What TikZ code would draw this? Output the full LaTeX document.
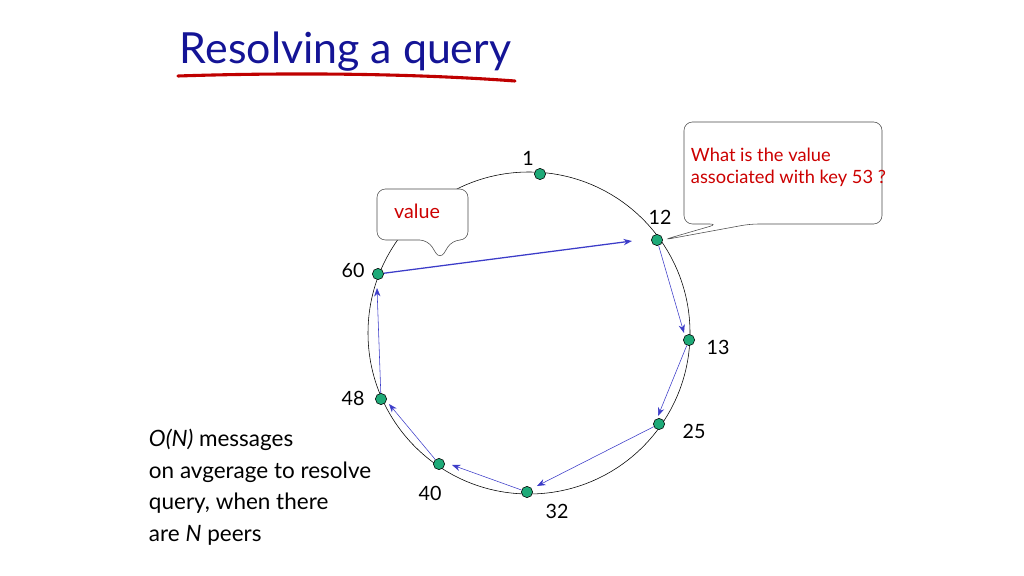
\documentclass[tikz,border=0pt]{standalone}
\usepackage{fontspec}
\setmainfont{Lato}
\usetikzlibrary{arrows.meta}
\definecolor{titleblue}{RGB}{20,20,150}
\definecolor{peer}{RGB}{30,170,120}
\definecolor{hop}{RGB}{60,60,200}
\tikzset{
  peernode/.style={circle, draw=black, fill=peer, inner sep=0pt, minimum size=8pt},
  hoparrow/.style={draw=hop, -{Stealth[length=6pt]}},
  peerlabel/.style={font=\fontsize{14}{16}\selectfont},
  callout/.style={draw=black!70, fill=white, rounded corners=6pt}
}
\begin{document}
\begin{tikzpicture}[x=0.025cm, y=-0.025cm]
    \useasboundingbox (0,0) rectangle (1024,576) ;
    % title
    \node [anchor=west, text=titleblue, font=\fontsize{30.5}{34}\selectfont] (title) at (175,52) {Resolving a query} ;
    \draw [red!75!black, line width=2.2pt, line cap=round] (178,76) .. controls (300,72) and (420,74) .. (515,81) ;
    % ring
    \draw (529,333) circle (161) ;
    \node [peernode] (n1) at (540,174) {} ;
    \node [peernode] (n12) at (657,240) {} ;
    \node [peernode] (n13) at (689,340) {} ;
    \node [peernode] (n25) at (659,424) {} ;
    \node [peernode] (n32) at (527,492) {} ;
    \node [peernode] (n40) at (439,464) {} ;
    \node [peernode] (n48) at (381,399) {} ;
    \node [peernode] (n60) at (378,274) {} ;
    \node [peerlabel] (l1) at (528,158) {1} ;
    \node [peerlabel] (l12) at (660,217) {12} ;
    \node [peerlabel] (l13) at (718,347) {13} ;
    \node [peerlabel] (l25) at (694,431) {25} ;
    \node [peerlabel] (l32) at (557,511) {32} ;
    \node [peerlabel] (l40) at (430,493) {40} ;
    \node [peerlabel] (l48) at (353,398) {48} ;
    \node [peerlabel] (l60) at (353,270) {60} ;
    % hops
    \draw [hoparrow] (n12) -- (684,333) ;
    \draw [hoparrow] (n13) -- (658,416) ;
    \draw [hoparrow] (n25) -- (537,486) ;
    \draw [hoparrow] (n32) -- (452,465) ;
    \draw [hoparrow] (n40) -- (389,404) ;
    \draw [hoparrow] (n48) -- (377,288) ;
    \draw [hoparrow, line width=0.9pt] (n60) -- (632,241) ;
    % callouts
    \draw [callout] (377,189) -- (377,240) -- (428,240) -- (440,260) -- (452,240) -- (468,240) -- (468,189) -- cycle ;
    \node [text=red!80!black, peerlabel] (val) at (417,211) {value} ;
    \draw [callout] (684,122) -- (684,224) -- (718,224) -- (n12.east) -- (750,224) -- (882,224) -- (882,122) -- cycle ;
    \node [anchor=north west, align=left, text=red!80!black, font=\fontsize{13}{16}\selectfont] (ask) at (686,143) {What is the value\\associated with key 53 ?} ;
    % note
    \node [anchor=north west, align=left, font=\fontsize{16}{22.5}\selectfont] (note) at (144,424) {\textit{O(N)} messages\\on avgerage to resolve\\query, when there\\are \textit{N} peers} ;
\end{tikzpicture}
\end{document}
